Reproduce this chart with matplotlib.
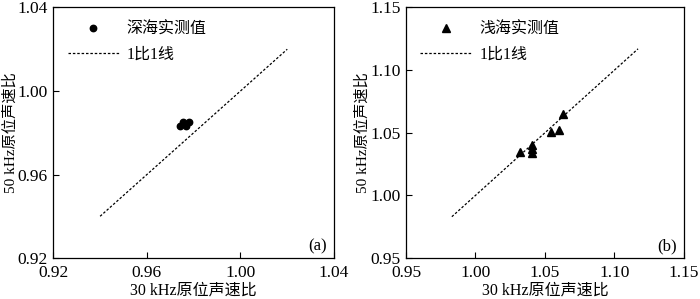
import numpy as np
import matplotlib.pyplot as plt

plt.rcParams['font.family'] = ['Liberation Serif', 'Noto Sans CJK SC']
plt.rcParams['font.size'] = 11

# (a) 深海
deep_x = [0.9740, 0.9755, 0.9765, 0.9780]
deep_y = [0.9830, 0.9850, 0.9830, 0.9850]
deep_line = [0.94, 1.02]

# (b) 浅海
shallow_x = [1.032, 1.041, 1.041, 1.041, 1.054, 1.060, 1.063]
shallow_y = [1.035, 1.034, 1.037, 1.040, 1.051, 1.052, 1.065]
shallow_line = [0.983, 1.117]

fig = plt.figure(figsize=(7, 2.99), dpi=100)
ax1 = fig.add_axes([0.0762, 0.137, 0.401, 0.838])
ax2 = fig.add_axes([0.580, 0.137, 0.397, 0.838])

ax1.plot(deep_x, deep_y, 'o', color='black', markersize=4.6, label='深海实测值')
ax1.plot(deep_line, deep_line, linestyle=(0, (2, 1.5)), color='black', lw=0.9, label='1比1线')
ax1.set_xlim(0.92, 1.04)
ax1.set_ylim(0.92, 1.04)
ax1.set_xticks([0.92, 0.96, 1.00, 1.04])
ax1.set_yticks([0.92, 0.96, 1.00, 1.04])
ax1.set_xticklabels(['0.92', '0.96', '1.00', '1.04'])
ax1.set_yticklabels(['0.92', '0.96', '1.00', '1.04'])
ax1.text(0.975, 0.015, '(a)', transform=ax1.transAxes, ha='right', va='bottom', fontsize=12)

ax2.plot(shallow_x, shallow_y, '^', color='black', markersize=5.5, label='浅海实测值')
ax2.plot(shallow_line, shallow_line, linestyle=(0, (2, 1.5)), color='black', lw=0.9, label='1比1线')
ax2.set_xlim(0.95, 1.15)
ax2.set_ylim(0.95, 1.15)
ax2.set_xticks([0.95, 1.00, 1.05, 1.10, 1.15])
ax2.set_yticks([0.95, 1.00, 1.05, 1.10, 1.15])
ax2.set_xticklabels(['0.95', '1.00', '1.05', '1.10', '1.15'])
ax2.set_yticklabels(['0.95', '1.00', '1.05', '1.10', '1.15'])
ax2.text(0.975, 0.015, '(b)', transform=ax2.transAxes, ha='right', va='bottom', fontsize=12)

for ax in (ax1, ax2):
    ax.tick_params(direction='in', length=4, width=0.8, labelsize=12.5)
    ax.tick_params(axis='x', pad=5)
    ax.tick_params(axis='y', pad=4)
    for s in ax.spines.values():
        s.set_linewidth(0.9)
    ax.set_xlabel('30 kHz原位声速比', fontsize=11.5, labelpad=1)
    ax.set_ylabel('50 kHz原位声速比', fontsize=11, labelpad=0)
    ax.legend(loc='upper left', frameon=False, fontsize=11.5, handlelength=3.2,
              handletextpad=0.5, borderaxespad=0.5, labelspacing=0.55)

fig.savefig('out.png', dpi=100)
